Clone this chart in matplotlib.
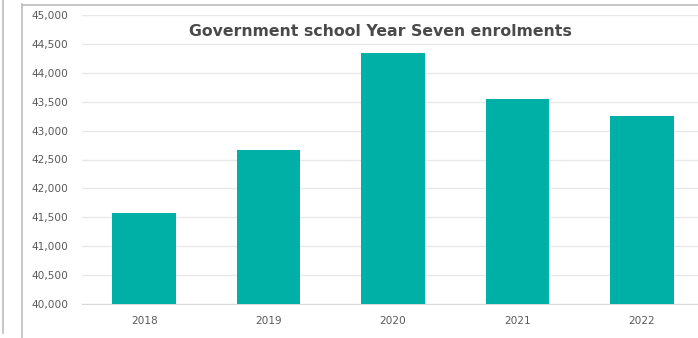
import matplotlib
matplotlib.use("Agg")
import matplotlib.pyplot as plt
from matplotlib.lines import Line2D
from matplotlib.ticker import FuncFormatter, MultipleLocator

years = ["2018", "2019", "2020", "2021", "2022"]
enrolments = [41570, 42670, 44340, 43550, 43250]
title = "Government school Year Seven enrolments"

W, H = 698, 338
fig = plt.figure(figsize=(W / 100, H / 100), dpi=100)
fig.patch.set_facecolor("white")

# axes box in pixel coordinates
left_px, right_px = 82, 704
top_px, bottom_px = 15, 304
ax = fig.add_axes([left_px / W, 1 - bottom_px / H,
                   (right_px - left_px) / W, (bottom_px - top_px) / H])

x = list(range(len(years)))
ax.bar(x, enrolments, width=0.51, color="#00AFA6", zorder=3)

ax.set_ylim(40000, 45000)
ax.set_xlim(-0.5, len(years) - 0.5)
ax.yaxis.set_major_locator(MultipleLocator(500))
ax.yaxis.set_major_formatter(FuncFormatter(lambda v, p: f"{int(v):,}"))
ax.set_xticks(x)
ax.set_xticklabels(years)

ax.grid(axis="y", color="#E8E8E8", linewidth=1, zorder=0)
for s in ["top", "right", "left"]:
    ax.spines[s].set_visible(False)
ax.spines["bottom"].set_color("#D9D9D9")
ax.tick_params(axis="both", length=0, labelsize=7.6, colors="#595959")
ax.tick_params(axis="y", pad=10)
ax.tick_params(axis="x", pad=9)

fig.text(380 / W, 1 - 31 / H, title, ha="center", va="center",
         fontsize=11.3, fontweight="bold", color="#4A4A4A")

# frame lines around the chart area
frame = "#BDBDBD"
fig.add_artist(Line2D([2.5 / W, 2.5 / W], [1 - 0 / H, 1 - 333 / H],
                      transform=fig.transFigure, color=frame, lw=1.2))
fig.add_artist(Line2D([21.5 / W, 21.5 / W], [1 - 4 / H, 0],
                      transform=fig.transFigure, color=frame, lw=1.2))
fig.add_artist(Line2D([21.5 / W, 1], [1 - 4.5 / H, 1 - 4.5 / H],
                      transform=fig.transFigure, color=frame, lw=1.2))

fig.savefig("out.png", dpi=100)
